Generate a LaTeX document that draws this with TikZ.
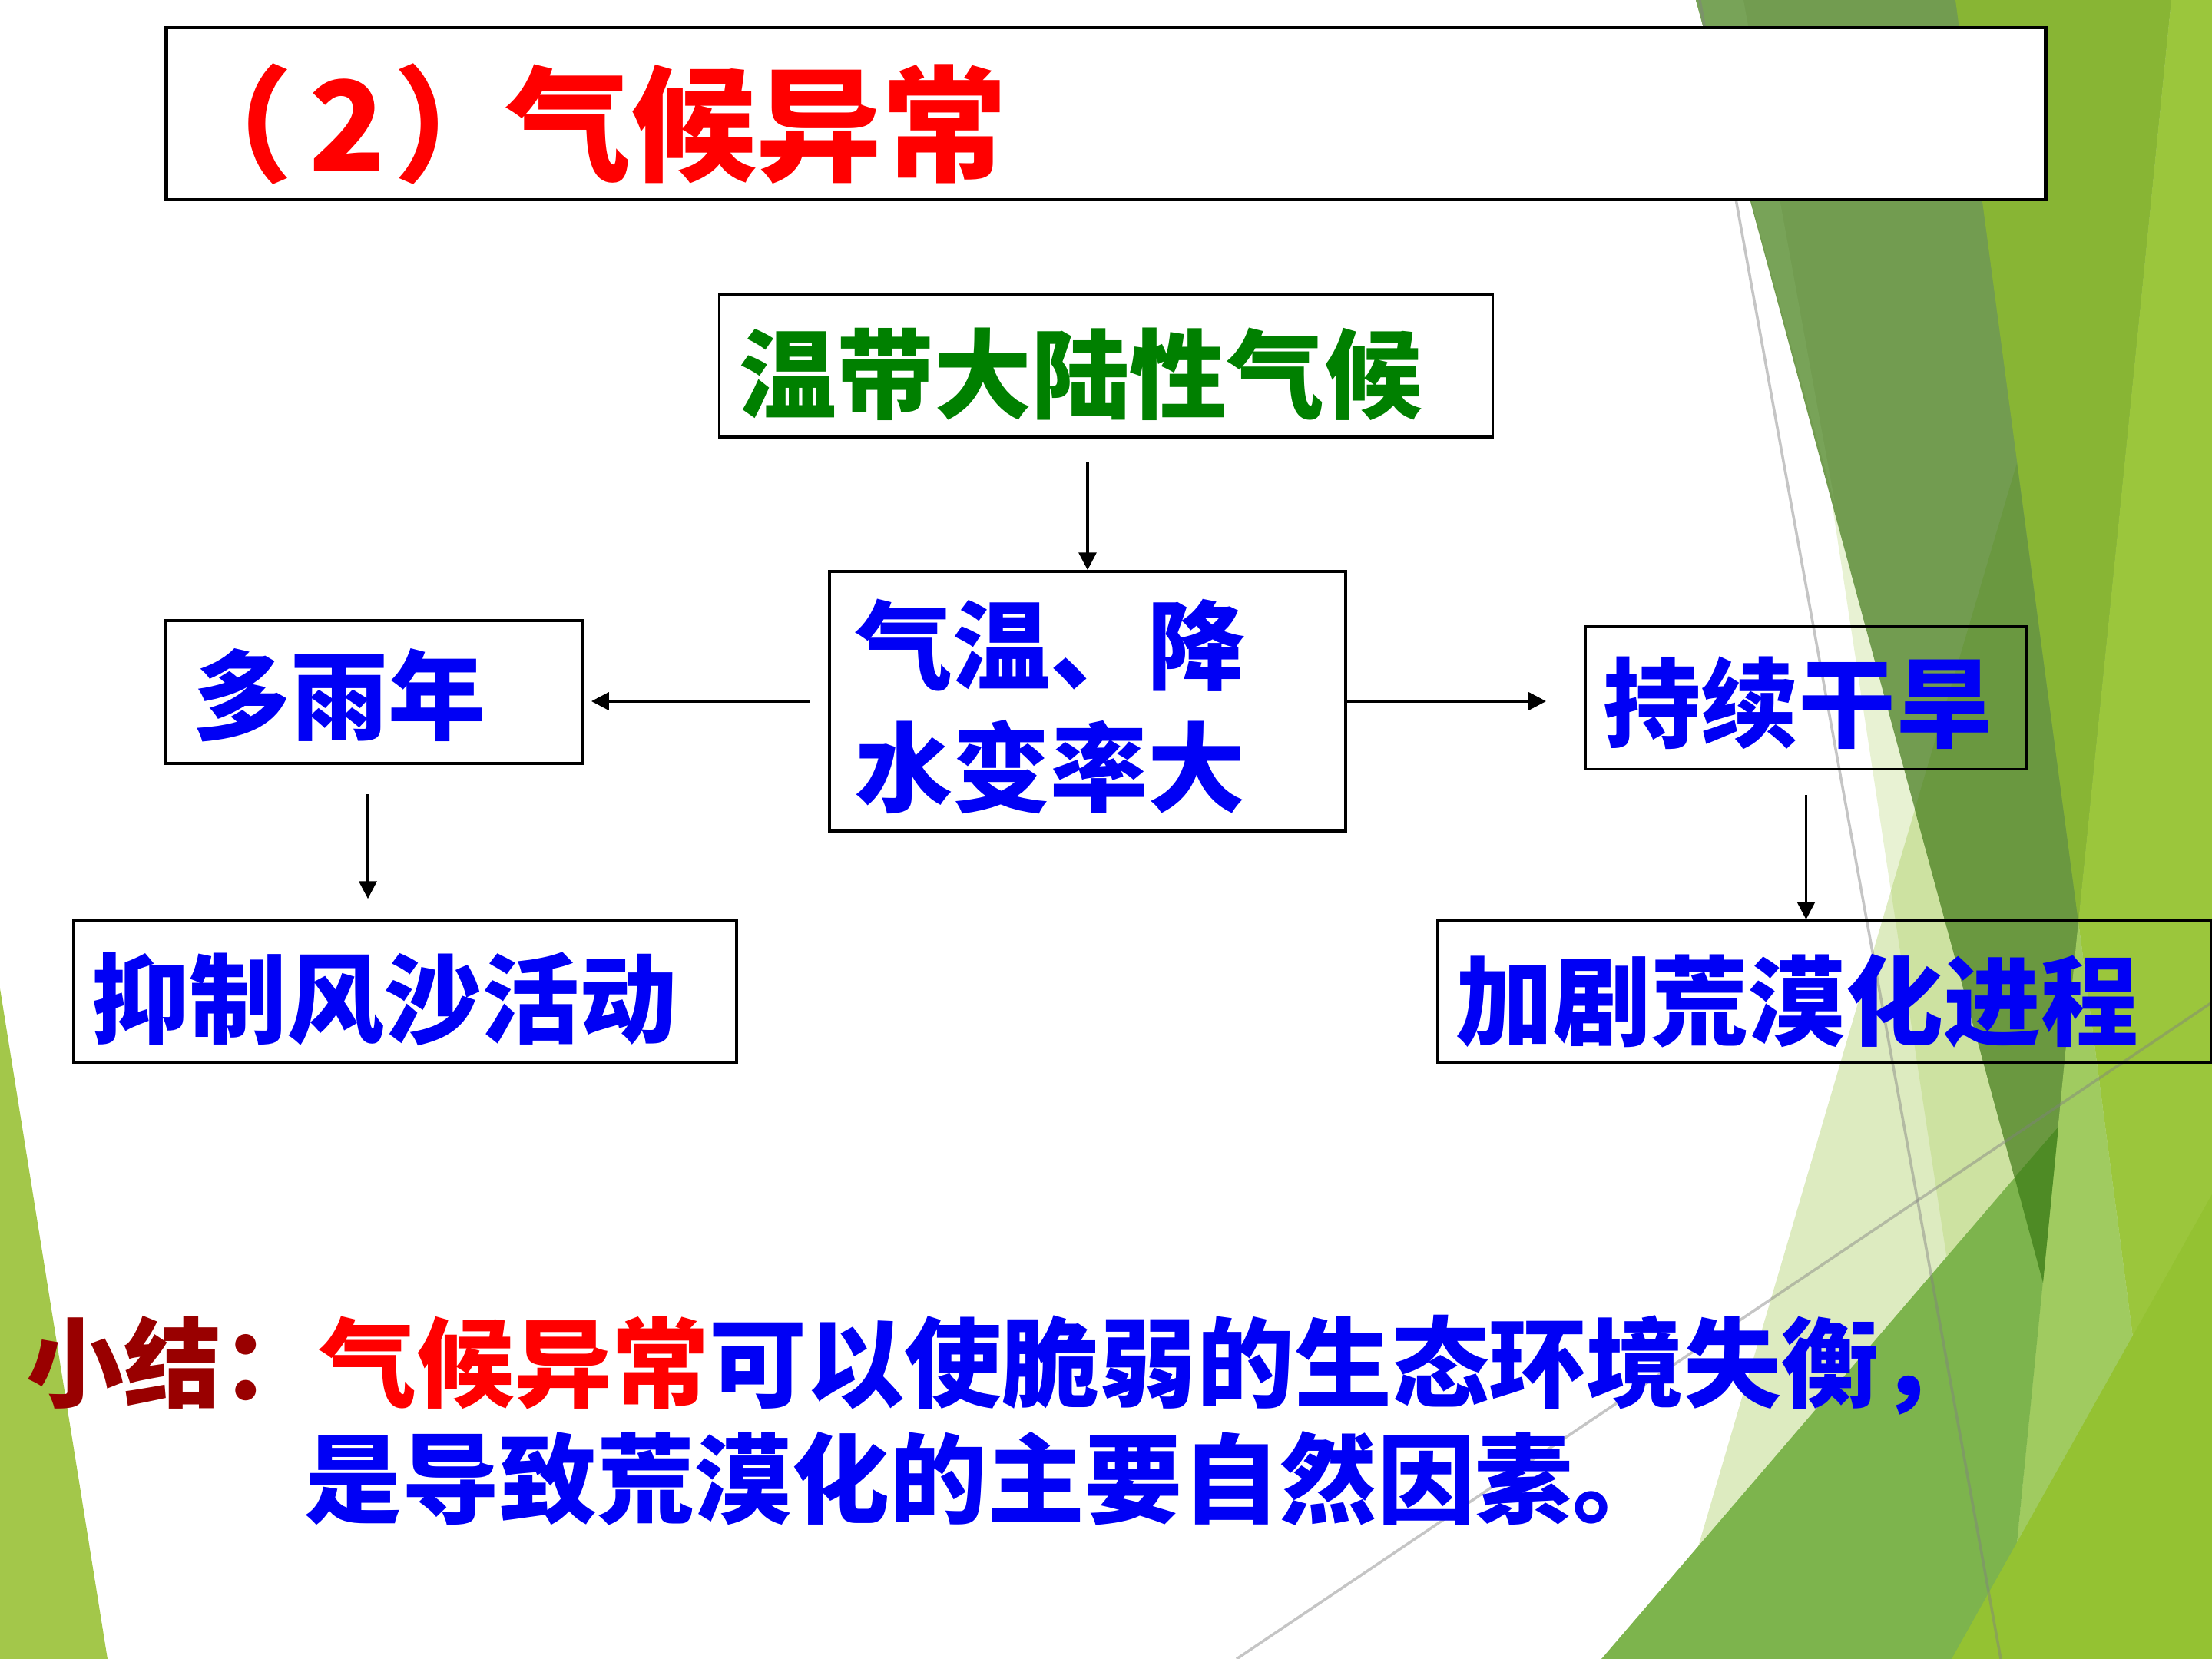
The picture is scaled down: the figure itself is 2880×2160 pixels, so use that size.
\documentclass[tikz,border=0pt]{standalone}
\usepackage{fontspec}
\newfontfamily\cjk{Noto Sans CJK SC}
\usetikzlibrary{arrows.meta}
\definecolor{txtblue}{RGB}{0,0,245}
\definecolor{txtgreen}{RGB}{0,128,0}
\definecolor{txtred}{RGB}{255,0,0}
\definecolor{darkred}{RGB}{153,0,0}
\definecolor{gLeft}{RGB}{163,199,74}
\definecolor{gPale}{RGB}{221,235,192}
\definecolor{gTint}{RGB}{144,194,38}
\definecolor{gDark}{RGB}{114,156,80}
\definecolor{gDarkL}{RGB}{120,163,88}
\definecolor{gDarkD}{RGB}{106,152,64}
\definecolor{gMid}{RGB}{136,181,52}
\definecolor{gLight}{RGB}{155,198,60}
\definecolor{gX}{RGB}{160,203,96}
\definecolor{gM}{RGB}{125,180,77}
\definecolor{gMD}{RGB}{78,139,37}
\definecolor{gBR}{RGB}{148,194,50}
\tikzset{
  box/.style={draw=black, line width=1pt, inner sep=0pt, rectangle},
  txt/.style={anchor=west, inner sep=0pt, text=txtblue,
    font=\cjk\bfseries\fontsize{36.1pt}{45.2pt}\selectfont},
  arr/.style={-{Triangle[length=6.5pt,width=6.5pt]}, line width=1.1pt},
  thin gray/.style={line width=1pt, draw=black!50, opacity=0.45}
}
\begin{document}
\begin{tikzpicture}[x=0.01cm,y=-0.01cm]
\useasboundingbox (0,0) rectangle (2880,2160);
\fill[white] (0,0) rectangle (2880,2160);
% background facets
\fill[gLeft] (0,1287) -- (140,2160) -- (0,2160) -- cycle;
\fill[gPale] (2803,0) -- (2880,0) -- (2880,2160) -- (2168,2160) -- cycle;
\fill[gTint, opacity=0.2] (2386,660) -- (2614,2160) -- (2880,2160) -- (2880,660) -- cycle;
\fill[gDark] (2208,0) -- (2827,0) -- (2660,1670) -- cycle;
\fill[gDarkL] (2208,0) -- (2270,0) -- (2390,660) -- cycle;
\fill[gDarkD] (2626,603) -- (2493,1054) -- (2660,1670) -- (2706,1200) -- cycle;
\fill[gMid] (2546,0) -- (2827,0) -- (2706,1200) -- cycle;
\fill[gLight] (2827,0) -- (2880,0) -- (2880,2160) -- (2832,2160) -- (2706,1200) -- cycle;
\fill[gX] (2706,1200) -- (2832,2160) -- (2611,2160) -- cycle;
\fill[gM] (2085,2160) -- (2680,1467) -- (2611,2160) -- cycle;
\fill[gMD] (2623,1533) -- (2680,1467) -- (2660,1670) -- cycle;
\fill[gBR] (2541,2160) -- (2880,1555) -- (2880,2160) -- cycle;
\draw[thin gray] (2213,0) -- (2605,2160);
\draw[thin gray] (1610,2160) -- (2880,1305);
% title
\node[box, fill=white, line width=1.3pt, minimum width=24.46cm, minimum height=2.24cm] (title) at (1440,148) {};
\node[txt, text=txtred, font=\cjk\bfseries\fontsize{46.4pt}{50pt}\selectfont] (ttl) at (218,161) {（\hspace{6pt}2\hspace{3pt}）\hspace{-5pt}气候异常};
% boxes
\node[box, minimum width=10.06cm, minimum height=1.85cm] (B0) at (1440,476.5) {};
\node[box, minimum width=6.72cm, minimum height=3.38cm] (B1) at (1416,913) {};
\node[box, minimum width=5.44cm, minimum height=1.86cm] (B2) at (487,901) {};
\node[box, minimum width=5.75cm, minimum height=1.86cm] (B3) at (2351.5,908.5) {};
\node[box, minimum width=8.63cm, minimum height=1.84cm] (B4) at (527.5,1291) {};
\node[box, minimum width=10.06cm, minimum height=1.84cm] (B5) at (2375,1291) {};
% texts
\node[txt, text=txtgreen] (t0) at (962,487) {温带大陆性气候};
\node[txt, align=left] (t1) at (1113,920) {气温、降\\水变率大};
\node[txt] (t2) at (251,905) {多雨年};
\node[txt] (t3) at (2087,915) {持续干旱};
\node[txt] (t4) at (119,1301) {抑制风沙活动};
\node[txt] (t5) at (1895,1303) {加剧荒漠化进程};
% arrows
\draw[arr, shorten <=0.31cm] (B1.north |- B0.south) -- (B1.north);
\draw[arr, shorten <=0.24cm, shorten >=0.09cm] (B1.west) -- (B1.west -| B2.east);
\draw[arr, shorten >=0.49cm] (B1.east) -- (B1.east -| B3.west);
\draw[arr, shorten <=0.38cm, shorten >=0.27cm] ([xshift=-0.08cm]B2.south) -- ([xshift=-0.08cm]B2.south |- B4.north);
\draw[arr, shorten <=0.32cm] (B3.south) -- (B3.south |- B5.north);
% summary
\node[txt] (s1) at (34,1777) {\textcolor{darkred}{小结：}\textcolor{txtred}{气候异常}可以使脆弱的生态环境失衡，};
\node[txt] (s2) at (396,1925) {是导致荒漠化的主要自然因素。};
\end{tikzpicture}
\end{document}
